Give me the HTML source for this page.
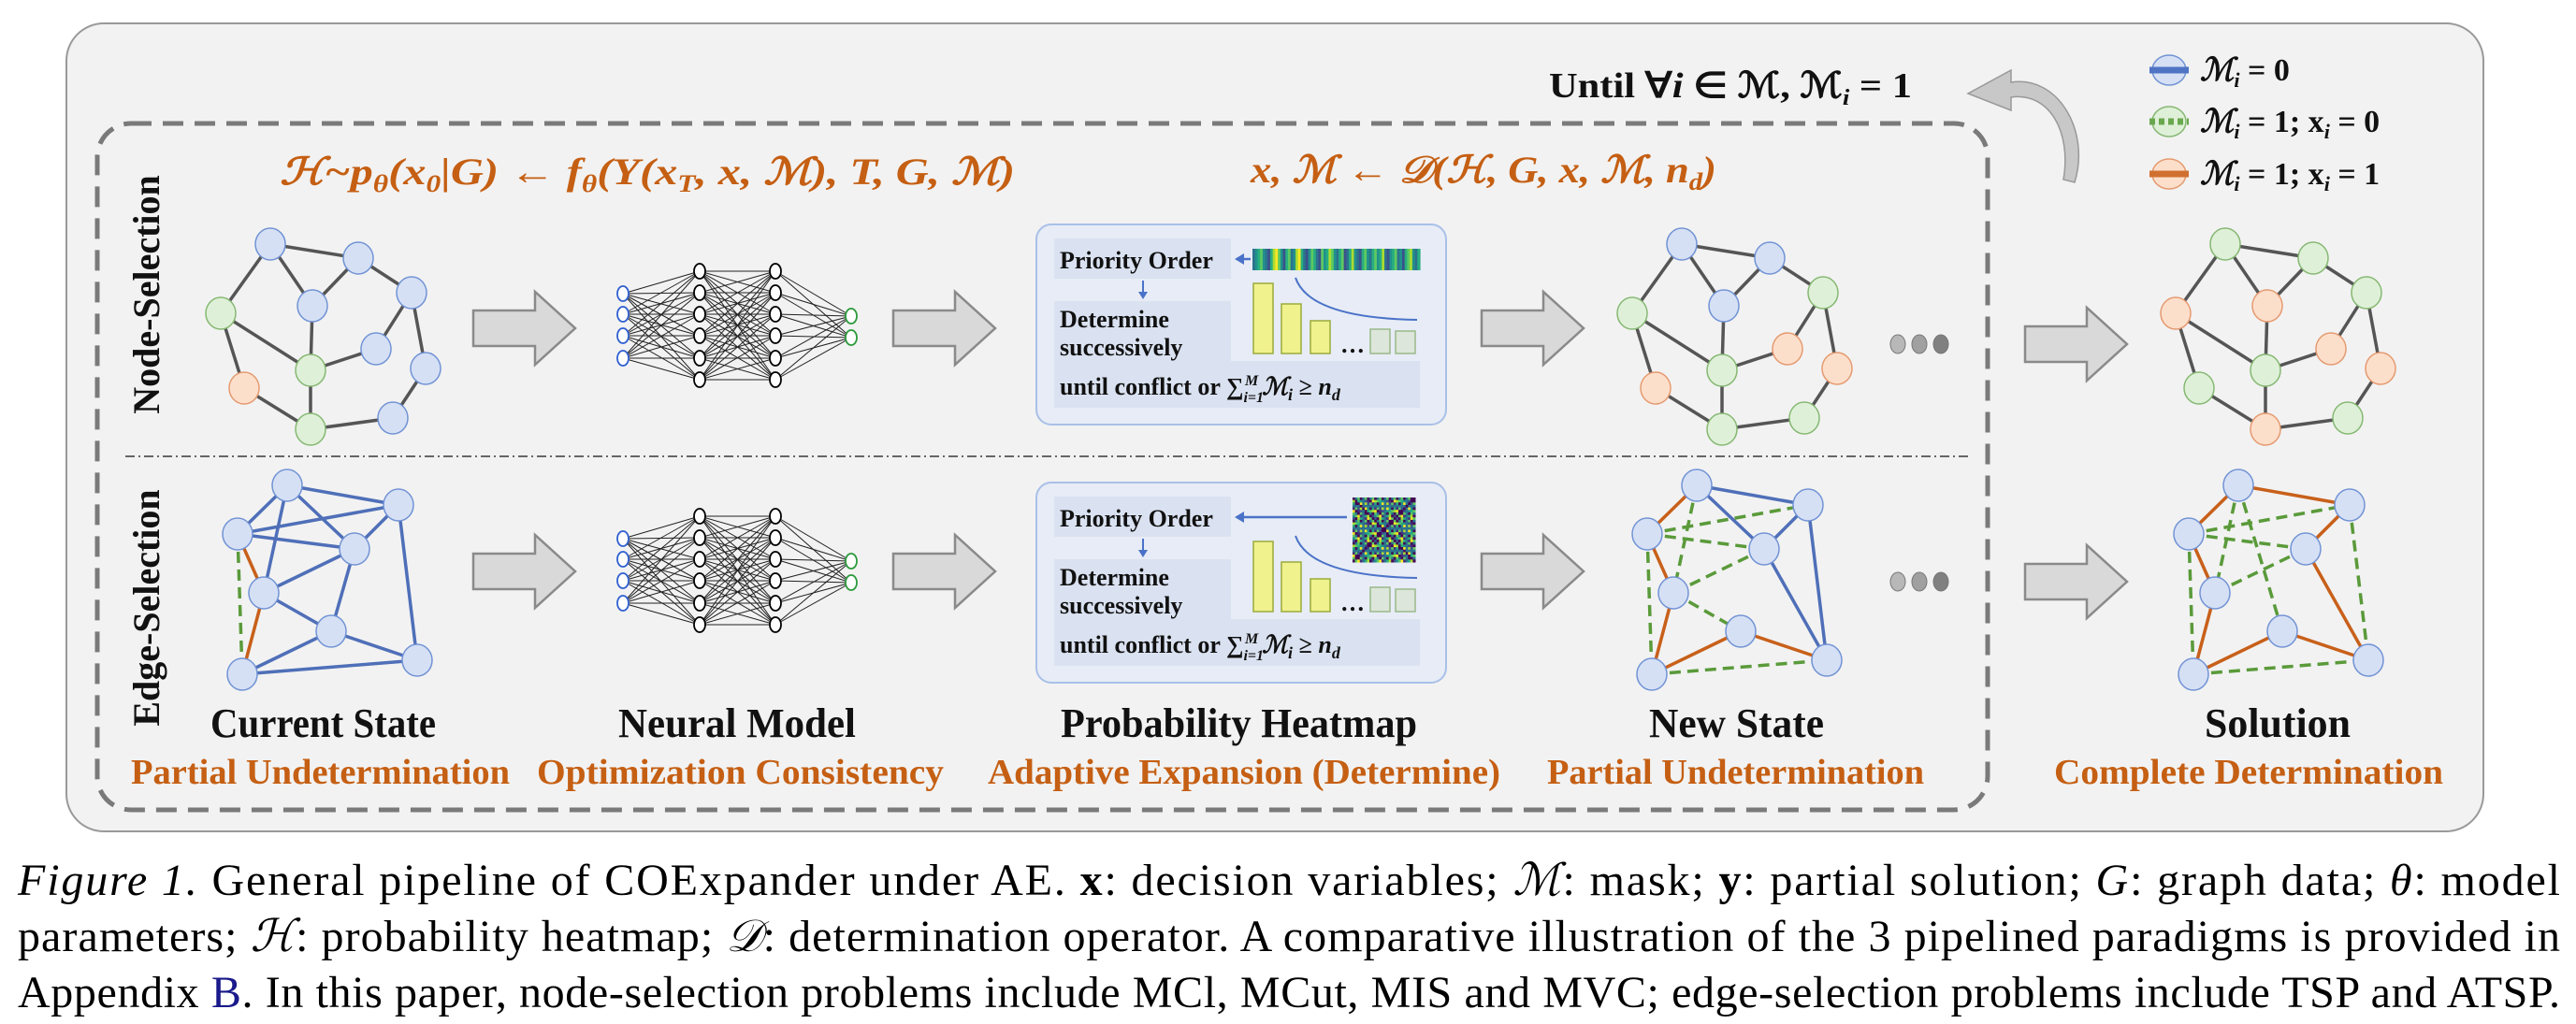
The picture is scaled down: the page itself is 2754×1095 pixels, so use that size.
<!DOCTYPE html>
<html><head><meta charset="utf-8"><style>
html,body{margin:0;padding:0;background:#fff;}
svg{display:block;}
.serif{font-family:"Liberation Serif","DejaVu Serif",serif;}
.ttl{font-family:"Liberation Serif",serif;font-weight:bold;fill:#111;}
.org{font-family:"Liberation Serif",serif;font-weight:bold;fill:#c55f13;}
.fx{font-family:"Liberation Serif","DejaVu Serif",serif;font-weight:bold;font-style:italic;fill:#c55f13;}
.pt{font-family:"Liberation Serif",serif;font-weight:bold;fill:#111;font-size:26px;}
</style></head><body>
<svg id="fig" width="2754" height="1095" viewBox="0 0 2754 1095" xmlns="http://www.w3.org/2000/svg">
<rect x="71" y="25" width="2584" height="864" rx="40" fill="#f2f2f2" stroke="#999" stroke-width="2"/>
<rect x="104" y="132" width="2021" height="734" rx="36" fill="none" stroke="#7a7a7a" stroke-width="5" stroke-dasharray="22 12"/>
<line x1="134" y1="488" x2="2104" y2="488" stroke="#666" stroke-width="2" stroke-dasharray="10 4 2 4"/>
<text class="ttl" font-size="40" transform="translate(170,315) rotate(-90)" text-anchor="middle">Node-Selection</text>
<text class="ttl" font-size="40" transform="translate(170,650) rotate(-90)" text-anchor="middle">Edge-Selection</text>

<text class="fx" font-size="40" x="299" y="197" textLength="786" lengthAdjust="spacingAndGlyphs">ℋ~p<tspan font-size="26" dy="8">θ</tspan><tspan dy="-8">(x</tspan><tspan font-size="26" dy="8">0</tspan><tspan dy="-8">|G) ← f</tspan><tspan font-size="26" dy="8">θ</tspan><tspan dy="-8">(Y(x</tspan><tspan font-size="26" dy="8">T</tspan><tspan dy="-8">, x, ℳ), T, G, ℳ)</tspan></text>
<text class="fx" font-size="40" x="1337" y="195" textLength="498" lengthAdjust="spacingAndGlyphs">x, ℳ ← 𝒟(ℋ, G, x, ℳ, n<tspan font-size="26" dy="8">d</tspan><tspan dy="-8">)</tspan></text>
<text class="ttl" font-size="38" x="1656" y="104" textLength="388" lengthAdjust="spacingAndGlyphs">Until ∀<tspan font-style="italic">i</tspan> ∈ ℳ, ℳ<tspan font-size="24" dy="8" font-style="italic">i</tspan><tspan dy="-8"> = 1</tspan></text>

<path d="M2218,195 C2235,140 2200,80 2150,88 L2150,75 L2104,100 L2150,118 L2150,104 C2190,98 2215,140 2206,192 Z" fill="#c8c8c8" stroke="#999" stroke-width="1.5"/>

<g id="legend"></g>
<g id="graphs"></g>
<g id="nns"></g>
<g id="arrows"></g>
<g id="panels"></g>

<text class="ttl" font-size="44" x="225" y="788" textLength="241" lengthAdjust="spacingAndGlyphs">Current State</text>
<text class="org" font-size="38" x="140" y="838" textLength="405" lengthAdjust="spacingAndGlyphs">Partial Undetermination</text>
<text class="ttl" font-size="44" x="661" y="788" textLength="254" lengthAdjust="spacingAndGlyphs">Neural Model</text>
<text class="org" font-size="38" x="574" y="838" textLength="435" lengthAdjust="spacingAndGlyphs">Optimization Consistency</text>
<text class="ttl" font-size="44" x="1134" y="788" textLength="381" lengthAdjust="spacingAndGlyphs">Probability Heatmap</text>
<text class="org" font-size="38" x="1056" y="838" textLength="548" lengthAdjust="spacingAndGlyphs">Adaptive Expansion (Determine)</text>
<text class="ttl" font-size="44" x="1763" y="788" textLength="187" lengthAdjust="spacingAndGlyphs">New State</text>
<text class="org" font-size="38" x="1654" y="838" textLength="403" lengthAdjust="spacingAndGlyphs">Partial Undetermination</text>
<text class="ttl" font-size="44" x="2357" y="788" textLength="156" lengthAdjust="spacingAndGlyphs">Solution</text>
<text class="org" font-size="38" x="2196" y="838" textLength="416" lengthAdjust="spacingAndGlyphs">Complete Determination</text>

<g font-family="Liberation Serif, serif" font-size="48" fill="#000">
<text x="19" y="957" textLength="2718" lengthAdjust="spacing"><tspan font-style="italic">Figure 1.</tspan> General pipeline of COExpander under AE. <tspan font-weight="bold">x</tspan>: decision variables; <tspan font-style="italic">ℳ</tspan>: mask; <tspan font-weight="bold">y</tspan>: partial solution; <tspan font-style="italic">G</tspan>: graph data; <tspan font-style="italic">θ</tspan>: model</text>
<text x="19" y="1017" textLength="2718" lengthAdjust="spacing">parameters; <tspan font-style="italic">ℋ</tspan>: probability heatmap; <tspan font-style="italic">𝒟</tspan>: determination operator. A comparative illustration of the 3 pipelined paradigms is provided in</text>
<text x="19" y="1077" textLength="2718" lengthAdjust="spacing">Appendix <tspan fill="#1a1a8c">B</tspan>. In this paper, node-selection problems include MCl, MCut, MIS and MVC; edge-selection problems include TSP and ATSP.</text>
</g>
</svg>
<script>
const NS='http://www.w3.org/2000/svg';
function mk(tag,attrs,parent){const e=document.createElementNS(NS,tag);for(const k in attrs)e.setAttribute(k,attrs[k]);parent.appendChild(e);return e;}
const FILL={b:'#d6e0f5',g:'#dff0d8',o:'#fcdfcb'};
const STROKE={b:'#7193d4',g:'#86b873',o:'#e59a70'};
const ECOL={k:'#555555',b:'#4f6fb8',o:'#c8601a',d:'#5a9a3a'};

const nodePos=[[289,261],[383,276],[440,313],[236,335],[334,327],[402,373],[455,394],[261,415],[332,396],[332,459],[420,447]];
const nodeEdges=[[0,1],[0,3],[0,4],[1,4],[1,2],[2,5],[2,6],[3,8],[3,7],[4,8],[8,5],[7,9],[8,9],[9,10],[10,6]];
const nodeColorsCurrent=['b','b','b','g','b','b','b','o','g','g','b'];
const nodeColorsNew=['b','b','g','g','b','o','o','o','g','g','g'];
const nodeColorsSolution=['g','g','g','o','o','o','o','g','g','o','g'];
const edgePos=[[307,519],[426,540],[254,571],[379,587],[282,634],[354,675],[446,706],[259,721]];
const edgesCurrent=[[0,1,'b'],[0,2,'b'],[0,3,'b'],[0,4,'b'],[2,1,'b'],[2,3,'b'],[1,3,'b'],[1,6,'b'],[3,4,'b'],[3,5,'b'],[4,5,'b'],[5,6,'b'],[5,7,'b'],[7,6,'b'],[2,4,'o'],[4,7,'o'],[2,7,'d']];
const edgesNew=[[0,1,'b'],[0,3,'b'],[3,1,'b'],[1,6,'b'],[3,6,'b'],[0,2,'o'],[2,4,'o'],[4,7,'o'],[7,5,'o'],[5,6,'o'],[2,1,'d'],[2,3,'d'],[0,4,'d'],[3,4,'d'],[4,5,'d'],[2,7,'d'],[7,6,'d']];
const edgesSolution=[[0,2,'o'],[0,1,'o'],[1,3,'o'],[3,6,'o'],[2,4,'o'],[4,7,'o'],[7,5,'o'],[5,6,'o'],[0,5,'d'],[2,1,'d'],[2,3,'d'],[3,4,'d'],[1,6,'d'],[7,6,'d'],[2,7,'d'],[0,4,'d']];

const G=document.getElementById('graphs');
function drawNodeGraph(dx,colors,name){
  const g=mk('g',{},G);
  
  
  nodeEdges.forEach(([a,b])=>{const l=mk('line',{x1:nodePos[a][0]+dx,y1:nodePos[a][1],x2:nodePos[b][0]+dx,y2:nodePos[b][1],stroke:ECOL.k,'stroke-width':3.5},g);
    
    });
  nodePos.forEach((p,i)=>{const c=mk('ellipse',{cx:p[0]+dx,cy:p[1],rx:16,ry:17,fill:FILL[colors[i]],stroke:STROKE[colors[i]],'stroke-width':1.5},g);
    
    });
}
function drawEdgeGraph(dx,edges,name){
  const g=mk('g',{},G);
  
  
  edges.forEach(([a,b,t])=>{const at={x1:edgePos[a][0]+dx,y1:edgePos[a][1],x2:edgePos[b][0]+dx,y2:edgePos[b][1],stroke:ECOL[t],'stroke-width':3.5};
    if(t==='d')at['stroke-dasharray']='12 7';
    const l=mk('line',at,g);
    
    });
  edgePos.forEach(p=>{const c=mk('ellipse',{cx:p[0]+dx,cy:p[1],rx:16,ry:17,fill:FILL.b,stroke:STROKE.b,'stroke-width':1.5},g);
    
    });
}
drawNodeGraph(0,nodeColorsCurrent,'current-node-graph');
drawNodeGraph(1509,nodeColorsNew,'new-node-graph');
drawNodeGraph(2090,nodeColorsSolution,'solution-node-graph');
drawEdgeGraph(0,edgesCurrent,'current-edge-graph');
drawEdgeGraph(1507,edgesNew,'new-edge-graph');
drawEdgeGraph(2086,edgesSolution,'solution-edge-graph');

[[368],[622]].forEach(([y])=>{[2029,2052,2075].forEach((x,i)=>{const c=mk('ellipse',{cx:x,cy:y,rx:8,ry:10,fill:['#b8b8b8','#a0a0a0','#808080'][i],stroke:'#777','stroke-width':1},G);
  
  });});

const NN=document.getElementById('nns');
function drawNN(dy,name){
  const g=mk('g',{},NN);
  
  
  const layers=[[666,[314,336,359,383]],[748,[290,313,336,359,383,406]],[829,[290,313,336,359,383,406]],[910,[338,361]]];
  for(let l=0;l<3;l++){const [x1,ys1]=layers[l],[x2,ys2]=layers[l+1];
    ys1.forEach(a=>ys2.forEach(b=>mk('line',{x1:x1,y1:a+dy,x2:x2,y2:b+dy,stroke:'#222','stroke-width':1},g)));}
  layers.forEach(([x,ys],li)=>ys.forEach(y=>{const c=mk('ellipse',{cx:x,cy:y+dy,rx:6,ry:8,fill:'#fff',stroke:li===0?'#2f5fd0':(li===3?'#2a9a3a':'#000'),'stroke-width':1.8},g);
    
    }));
}
drawNN(0,'node-neural-net');
drawNN(262,'edge-neural-net');

const A=document.getElementById('arrows');
[[506,351],[955,351],[1584,351],[506,611],[955,611],[1584,611],[2165,368],[2165,622]].forEach(([x,y])=>{
  const p=mk('polygon',{points:`${x},${y-19} ${x+66},${y-19} ${x+66},${y-39} ${x+109},${y} ${x+66},${y+39} ${x+66},${y+19} ${x},${y+19}`,fill:'#d9d9d9',stroke:'#8a8a8a','stroke-width':2.5},A);
  
  });

const vir=['#440154','#472d7b','#3b528b','#2c728e','#21918c','#28ae80','#5ec962','#addc30','#fde725'];
const barStripes=[3,4,5,6,4,3,2,5,7,8,6,4,2,5,6,3,4,7,8,5,3,2,4,6,5,3,2,6,4,5,7,6,4,3,5,6,2,3,5,7,4,3,2,5,6,4,3,5,6,4,5,7,3,2,4,5,6,3,4,2,5,6,7,4,3,5];
const probBars=[75,53,35,26,24];
const P=document.getElementById('panels');
function drawPanel(dy,isEdge,name){
  const g=mk('g',{},P);
  
  
  mk('rect',{x:1108,y:240+dy,width:438,height:214,rx:16,fill:'#e7ecf6',stroke:'#a9c0e8','stroke-width':2},g);
  mk('rect',{x:1127,y:255+dy,width:189,height:43,fill:'#dae2f1'},g);
  mk('rect',{x:1127,y:322+dy,width:189,height:64,fill:'#dae2f1'},g);
  mk('rect',{x:1127,y:386+dy,width:391,height:50,fill:'#dae2f1'},g);
  const t1=mk('text',{x:1133,y:287+dy,class:'pt'},g);t1.textContent='Priority Order';
  
  
  const t2=mk('text',{x:1133,y:350+dy,class:'pt'},g);t2.textContent='Determine';
  const t3=mk('text',{x:1133,y:380+dy,class:'pt'},g);t3.textContent='successively';
  const t4=mk('text',{x:1133,y:422+dy,class:'pt'},g);
  t4.innerHTML='until conflict or  ∑<tspan font-size="16" dy="8" font-style="italic">i=1</tspan><tspan font-size="16" dx="-20" dy="-18" font-style="italic">M</tspan><tspan dy="10" dx="4" font-style="italic">ℳ</tspan><tspan font-size="18" dy="6" font-style="italic">i</tspan><tspan dy="-6"> ≥  </tspan><tspan font-style="italic">n</tspan><tspan font-size="18" dy="6" font-style="italic">d</tspan>';
  
  
  mk('line',{x1:1222,y1:300+dy,x2:1222,y2:317+dy,stroke:'#4a72c8','stroke-width':2},g);
  mk('polygon',{points:`${1217},${312+dy} ${1227},${312+dy} ${1222},${320+dy}`,fill:'#4a72c8'},g);
  const ax=isEdge?1440:1337;
  mk('line',{x1:1322,y1:277+dy,x2:ax,y2:277+dy,stroke:'#4a72c8','stroke-width':2.5},g);
  mk('polygon',{points:`${1320},${277+dy} ${1330},${271+dy} ${1330},${283+dy}`,fill:'#4a72c8'},g);
  if(!isEdge){
    const w=179/barStripes.length;
    barStripes.forEach((v,i)=>mk('rect',{x:1339+i*w,y:266+dy,width:w+0.6,height:23,fill:vir[v]},g));
  } else {
    const n=26,s=67/n;
    for(let i=0;i<n;i++)for(let j=0;j<n;j++){const v=(i===j||i+j===n-1)?0:((i*7+j*3+i*j*5)%9);
      mk('rect',{x:1446+j*s,y:532+i*69/n,width:s+0.5,height:69/n+0.5,fill:vir[v]},g);}
  }
  const bx=[1340,1370,1401,1465,1492];
  probBars.forEach((h,i)=>{const r=mk('rect',{x:bx[i],y:378+dy-h,width:21,height:h,fill:i<3?'#f0f28e':'#dde6da',stroke:i<3?'#9aab3a':'#9ab98a','stroke-width':1.5},g);
    
    });
  const dt=mk('text',{x:1433,y:377+dy,class:'pt','font-size':'22'},g);dt.textContent='…';
  mk('path',{d:`M1385,${297+dy} Q1400,${340+dy} 1515,${342+dy}`,fill:'none',stroke:'#4a72c8','stroke-width':2},g);
}
drawPanel(0,false,'node-heatmap-panel');
drawPanel(276,true,'edge-heatmap-panel');

const L=document.getElementById('legend');
[[75,'b','#4f74c4',null,'ℳ<tspan font-size="22" dy="7">i</tspan><tspan dy="-7" font-style="normal"> = 0</tspan>'],
 [130,'g','#6aa84f','6 4','ℳ<tspan font-size="22" dy="7">i</tspan><tspan dy="-7" font-style="normal"> = 1; x</tspan><tspan font-size="22" dy="7">i</tspan><tspan dy="-7" font-style="normal"> = 0</tspan>'],
 [186,'o','#d07030',null,'ℳ<tspan font-size="22" dy="7">i</tspan><tspan dy="-7" font-style="normal"> = 1; x</tspan><tspan font-size="22" dy="7">i</tspan><tspan dy="-7" font-style="normal"> = 1</tspan>']].forEach(([y,c,lc,da,txt])=>{
  const g=mk('g',{},L);
  
  
  mk('ellipse',{cx:2319,cy:y,rx:18,ry:16,fill:FILL[c],stroke:STROKE[c],'stroke-width':1.5},g);
  const la={x1:2298,y1:y,x2:2340,y2:y,stroke:lc,'stroke-width':7};if(da)la['stroke-dasharray']=da;
  mk('line',la,g);
  const t=mk('text',{x:2352,y:y+11,class:'ttl','font-size':'34','font-style':'italic'},g);t.innerHTML=txt;
});
</script>
</body></html>
